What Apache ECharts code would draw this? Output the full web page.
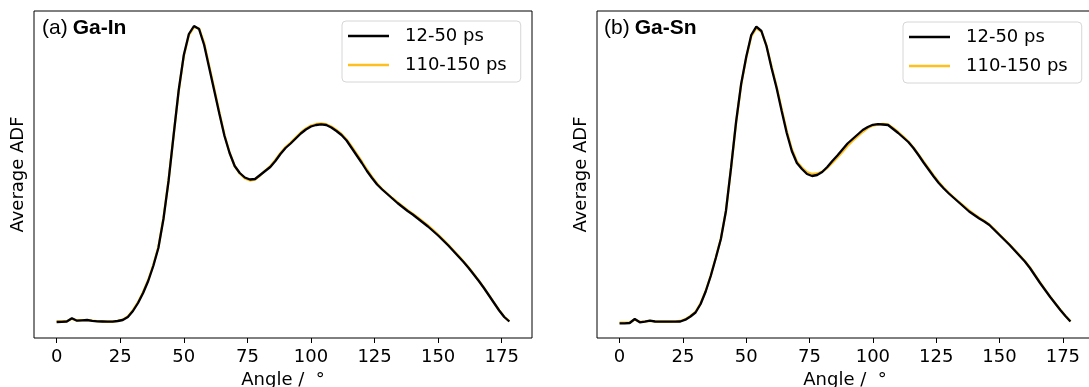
<!DOCTYPE html>
<html>
<head>
<meta charset="utf-8">
<script src="https://cdn.jsdelivr.net/npm/echarts@6/dist/echarts.min.js"></script>
<style>
  html, body { margin: 0; padding: 0; background: #fff; }
  #chart { width: 1089px; height: 387px; }
</style>
</head>
<body>
<div id="chart"></div>
<script>
// Angles (degrees), 0..178 step 2
const angles = [0,2,4,6,8,10,12,14,16,18,20,22,24,26,28,30,32,34,36,38,40,42,44,46,48,50,52,54,56,58,60,62,64,66,68,70,72,74,76,78,80,82,84,86,88,90,92,94,96,98,100,102,104,106,108,110,112,114,116,118,120,122,124,126,128,130,132,134,136,138,140,142,144,146,148,150,152,154,156,158,160,162,164,166,168,170,172,174,176,178];

const xTicks = [0, 25, 50, 75, 100, 125, 150, 175];
const seriesNames = ['12-50 ps', '110-150 ps'];
const panelLabels = [['(a)', 'Ga-In'], ['(b)', 'Ga-Sn']];

// (a) Ga-In
const gaIn_12_50 = [16,16.2,16.5,19.7,17.3,17.7,18,17.2,16.7,16.5,16.3,16.3,17,18,21,27,35,45,57,72,90,119,157,203,248,283,304,312,309,293,270,247,224,202,185,172,165,160.5,158.5,159,163,167,171,177,184,190,194.5,199.5,204.5,208.5,211.5,213,213.7,213,210.5,207,203,197.5,190,182.5,175,167,160,153.5,148.5,144,139.5,135,131,127,123.5,119.5,115.5,111.5,107,102.5,97.5,92.5,87,81.5,76,70,63.5,57,50,42.5,35,27.5,21,16.5];
const gaIn_110_150 = [16.6,16.8,16.8,19.2,17.5,17.8,17.8,17.3,16.9,16.6,16.5,16.5,17.2,18.4,21.6,27.8,35.8,46,58,73,91,120,157.5,203,247,282,303,310.8,309.5,295,272,249,225.5,203,185.5,172,164.5,159.5,157.5,158.5,162.5,167.5,172,178,185,191,195.5,200.5,205.5,209.5,212.5,214,214.5,213.8,211.5,208,204,198.5,191.5,184,176.5,168.5,161,154.5,149,144.5,140,135.8,131.8,127.8,124.2,120.5,116.5,112.5,108.2,103.5,98.5,93.2,87.8,82.2,76.5,70.5,64,57.2,50.2,42.8,35.2,27.8,21.2,16.8];

// (b) Ga-Sn
const gaSn_12_50 = [14.7,14.7,15,19,15.7,16.3,17.3,16.5,16.3,16.3,16.3,16.3,16.5,18.3,21.5,25.5,34,46.5,62,80,99,127,170,216,254,281,303,311.3,307,292,270,250,227,205,187,175,169,164,162,163,166,171,177,182.5,188.5,194.5,199,203.5,208,211,213.2,213.8,213.5,213,209,205,200.5,196,190,183,175.5,168.5,161.5,155,149.5,144.5,140,135.5,131,126.5,123,119.5,116.5,113,108,103,98,93,87.5,82,76.5,70,62.5,55,48,41,34.5,28,22,16.5];
const gaSn_110_150 = [15.4,15.4,15.6,18.4,16.2,16.6,17.1,16.6,16.5,16.5,16.5,16.6,17,18.8,22,26.2,34.6,47,62.5,80.5,99.5,127,169.5,215,253,280,301.5,309.8,306.5,292.5,271.5,251.5,229,207,189,176.5,170.5,166,164,164.5,166.5,170,175,180.5,186,192,197,201.5,206,210,212.5,213.5,214,213.5,210,206,201.5,196.5,190.5,183.5,176.5,169.5,162.5,156,150.2,145.2,140.5,136,131.8,127.5,123.8,120.2,117,113.5,108.6,103.5,98.5,93.4,88,82.5,77,70.5,63,55.5,48.4,41.4,34.8,28.2,22.2,16.8];

const BLACK = '#000000';
const YELLOW = '#FFBF1F';

function zip(xs, ys) { return xs.map((x, i) => [x, ys[i]]); }

const grids = [
  { left: 34, top: 11, width: 498, height: 327 },
  { left: 597, top: 11, width: 496, height: 327 }
];

const font = 'DejaVu Sans';

function xAxisFor(idx) {
  return {
    type: 'value', gridIndex: idx, min: -8.9, max: 186.9,
    name: 'Angle /  °', nameLocation: 'middle', nameGap: 33,
    nameTextStyle: { fontSize: 18, fontFamily: font, color: '#000' },
    axisLine: { show: false, onZero: false },
    axisTick: { show: true, customValues: xTicks, length: 5, lineStyle: { color: '#000', width: 1 } },
    axisLabel: { show: true, customValues: xTicks, fontSize: 18, fontFamily: font, color: '#000', margin: 10 },
    splitLine: { show: false }
  };
}
function yAxisFor(idx) {
  return {
    type: 'value', gridIndex: idx, min: 0, max: 327,
    name: 'Average ADF', nameLocation: 'middle', nameGap: 7,
    nameTextStyle: { fontSize: 18, fontFamily: font, color: '#000' },
    axisLine: { show: false, onZero: false },
    axisTick: { show: false }, axisLabel: { show: false }, splitLine: { show: false }
  };
}
function lineSeries(name, data, color, idx, z) {
  return {
    type: 'line', name: name, xAxisIndex: idx, yAxisIndex: idx,
    data: zip(angles, data), symbol: 'none', smooth: false, z: z,
    lineStyle: { color: color, width: 2.3 }, itemStyle: { color: color },
    emphasis: { disabled: true }, animation: false
  };
}
function legendFor(left, top) {
  return {
    orient: 'vertical', left: left, top: top, data: seriesNames,
    icon: 'rect', itemWidth: 41, itemHeight: 2.5, itemGap: 11, selectedMode: false,
    textStyle: { fontSize: 18, fontFamily: font, color: '#000', padding: [0, 0, 0, 11], lineHeight: 18 },
    backgroundColor: 'rgba(255,255,255,0.8)', borderColor: '#d6d6d6', borderWidth: 1, borderRadius: 4,
    padding: [6, 14, 8, 6]
  };
}
function titleFor(idx, left) {
  return {
    text: '{n|' + panelLabels[idx][0] + '} {b|' + panelLabels[idx][1] + '}',
    left: left, top: 13,
    textStyle: {
      fontWeight: 'normal',
      rich: {
        n: { fontSize: 21, fontFamily: 'Liberation Sans', fontWeight: 'normal', color: '#000' },
        b: { fontSize: 21, fontFamily: 'Liberation Sans', fontWeight: 'bold', color: '#000' }
      }
    }
  };
}

const chart = echarts.init(document.getElementById('chart'), null, { renderer: 'canvas' });
chart.setOption({
  backgroundColor: '#ffffff',
  animation: false,
  title: [titleFor(0, 37), titleFor(1, 599)],
  legend: [legendFor(342, 21), legendFor(903, 22)],
  grid: grids.map(g => Object.assign({ show: true, borderColor: '#000', borderWidth: 1, backgroundColor: 'transparent', containLabel: false, outerBoundsMode: 'none' }, g)),
  xAxis: [xAxisFor(0), xAxisFor(1)],
  yAxis: [yAxisFor(0), yAxisFor(1)],
  series: [
    lineSeries(seriesNames[1], gaIn_110_150, YELLOW, 0, 2),
    lineSeries(seriesNames[0], gaIn_12_50, BLACK, 0, 3),
    lineSeries(seriesNames[1], gaSn_110_150, YELLOW, 1, 2),
    lineSeries(seriesNames[0], gaSn_12_50, BLACK, 1, 3)
  ]
});
</script>
</body>
</html>
